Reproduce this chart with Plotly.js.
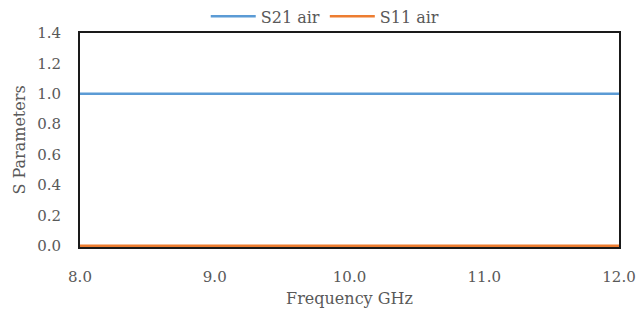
<!DOCTYPE html>
<html>
<head>
<meta charset="utf-8">
<script src="https://cdn.plot.ly/plotly-3.0.1.min.js"></script>
<style>html,body{margin:0;padding:0;background:#fff;}#chart{width:641px;height:320px;}</style>
</head>
<body>
<div id="chart"></div>
<script>
// Frequency sweep (GHz) and measured S-parameter magnitudes in air
const frequencyGHz = [8.0, 8.5, 9.0, 9.5, 10.0, 10.5, 11.0, 11.5, 12.0];
const s21Air = [1.0, 1.0, 1.0, 1.0, 1.0, 1.0, 1.0, 1.0, 1.0];
const s11Air = [0.0, 0.0, 0.0, 0.0, 0.0, 0.0, 0.0, 0.0, 0.0];
const xTickVals = [8, 9, 10, 11, 12];
const xTickText = ['8.0', '9.0', '10.0', '11.0', '12.0'];
const yTickVals = [0, 0.2, 0.4, 0.6, 0.8, 1.0, 1.2, 1.4];
const yTickText = ['0.0', '0.2', '0.4', '0.6', '0.8', '1.0', '1.2', '1.4'];

const serif = 'DejaVu Serif, Liberation Serif, serif';
const tickFont = {family: serif, size: 15, color: '#595959'};
const labelFont = {family: serif, size: 16, color: '#595959'};

const traces = [
  {x: frequencyGHz, y: s21Air, name: 'S21 air', mode: 'lines', line: {color: '#5B9BD5', width: 2.5}},
  {x: frequencyGHz, y: s11Air, name: 'S11 air', mode: 'lines', line: {color: '#ED7D31', width: 2.5}}
];

const layout = {
  width: 641, height: 320,
  margin: {l: 80, r: 22, t: 33, b: 73, autoexpand: false},
  paper_bgcolor: '#fff', plot_bgcolor: '#fff',
  font: labelFont,
  showlegend: true,
  legend: {orientation: 'h', x: 0.455, xanchor: 'center', y: 0.998, yanchor: 'bottom',
           font: labelFont, itemwidth: 45, tracegroupgap: 0, bgcolor: 'rgba(0,0,0,0)'},
  xaxis: {
    range: [8, 12], tickvals: xTickVals, ticktext: xTickText, tickfont: tickFont,
    showgrid: false, zeroline: false, ticks: '', ticklabelstandoff: 15, automargin: false,
    showline: true, mirror: true, linecolor: '#1a1a1a', linewidth: 2, layer: 'below traces',
    title: {text: 'Frequency GHz', font: labelFont, standoff: 8}
  },
  yaxis: {
    range: [-0.008, 1.4], tickvals: yTickVals, ticktext: yTickText, tickfont: tickFont,
    showgrid: false, zeroline: false, ticks: '', ticklabelstandoff: 14, automargin: false,
    showline: true, mirror: true, linecolor: '#1a1a1a', linewidth: 2, layer: 'below traces',
    title: {text: 'S Parameters', font: labelFont, standoff: 8}
  }
};

Plotly.newPlot('chart', traces, layout, {displayModeBar: false, staticPlot: true});
</script>
</body>
</html>
